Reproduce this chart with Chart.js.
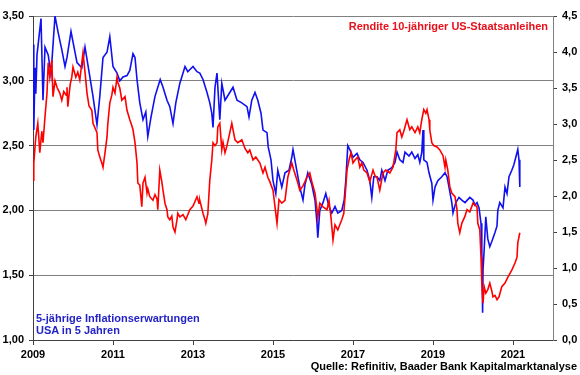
<!DOCTYPE html>
<html>
<head>
<meta charset="utf-8">
<script src="https://cdn.jsdelivr.net/npm/chart.js@4.4.1/dist/chart.umd.min.js"></script>
<style>
  html, body { margin: 0; padding: 0; background: #fff; }
  #wrap { position: relative; width: 580px; height: 375px; overflow: hidden; }
  canvas { position: absolute; left: 0; top: 0; }
  .lbl { position: absolute; font-family: "Liberation Sans", Arial, sans-serif; font-weight: bold; font-size: 11px; line-height: 12px; white-space: nowrap; }
  #redLbl { right: 32px; top: 20px; color: #e8101a; }
  #blueLbl { left: 36px; top: 312px; color: #2323c8; }
  #srcLbl { right: 3px; top: 360px; color: #000; }
</style>
</head>
<body>
<div id="wrap">
  <canvas id="c" width="580" height="375"></canvas>
  <div class="lbl" id="redLbl">Rendite 10-jähriger US-Staatsanleihen</div>
  <div class="lbl" id="blueLbl">5-jährige Inflationserwartungen<br>USA in 5 Jahren</div>
  <div class="lbl" id="srcLbl">Quelle: Refinitiv, Baader Bank Kapitalmarktanalyse</div>
</div>
<script>
// X tick labels (years)
const tickYears = [2009, 2011, 2013, 2015, 2017, 2019, 2021];

// 5-jährige Inflationserwartungen USA in 5 Jahren (left axis, %)
const blueYears = [
 2009.0,2009.02,2009.05,2009.07,2009.1,2009.2,2009.25,2009.3,2009.38,2009.45,2009.55,2009.63,2009.72,2009.8,2009.85,2009.95,
 2010.0,2010.1,2010.22,2010.3,2010.38,2010.5,2010.6,2010.67,2010.75,2010.85,2010.92,
 2011.0,2011.1,2011.17,2011.25,2011.35,2011.42,2011.5,2011.55,2011.6,2011.67,2011.75,2011.82,2011.87,2011.95,
 2012.05,2012.18,2012.25,2012.35,2012.42,2012.5,2012.57,2012.67,2012.72,2012.8,2012.87,
 2013.0,2013.1,2013.17,2013.25,2013.35,2013.42,2013.47,2013.5,2013.55,2013.6,2013.67,2013.72,2013.8,2013.92,
 2014.0,2014.1,2014.22,2014.35,2014.4,2014.47,2014.55,2014.62,2014.7,2014.75,2014.85,2014.88,2014.95,
 2015.0,2015.07,2015.12,2015.22,2015.3,2015.4,2015.47,2015.5,2015.6,2015.67,2015.75,2015.8,2015.87,2015.97,
 2016.05,2016.1,2016.12,2016.17,2016.25,2016.32,2016.4,2016.47,2016.55,2016.62,2016.72,2016.78,2016.82,2016.87,2016.92,
 2017.0,2017.1,2017.17,2017.25,2017.35,2017.42,2017.47,2017.52,2017.6,2017.67,2017.72,2017.8,2017.87,2017.97,
 2018.05,2018.1,2018.17,2018.25,2018.3,2018.4,2018.47,2018.55,2018.62,2018.67,2018.72,2018.75,2018.77,2018.85,2018.9,2018.97,
 2019.0,2019.05,2019.12,2019.22,2019.3,2019.35,2019.4,2019.47,2019.5,2019.57,2019.65,2019.72,2019.8,2019.92,
 2020.0,2020.05,2020.1,2020.15,2020.2,2020.22,2020.24,2020.25,2020.28,2020.32,2020.37,2020.42,2020.47,2020.55,2020.6,2020.62,2020.67,2020.75,2020.8,2020.85,2020.9,2020.97,
 2021.02,2021.07,2021.12,2021.15,2021.17
];
const blueValues = [
 3.28,2.62,3.10,2.90,3.20,3.48,2.85,3.26,3.20,3.05,3.50,3.37,3.24,3.11,3.18,3.38,
 3.30,3.14,3.10,3.26,3.11,2.88,2.66,2.88,3.18,3.22,3.34,
 3.11,3.06,3.00,3.03,3.04,3.08,3.21,3.18,3.01,2.83,2.70,2.76,2.57,2.72,
 2.88,3.01,2.95,2.85,2.80,2.67,2.83,2.98,3.03,3.11,3.07,
 3.11,3.07,3.06,3.01,2.91,2.83,2.75,2.64,2.95,3.06,2.70,2.98,2.85,2.91,
 2.95,2.85,2.83,2.80,2.72,2.85,2.91,2.85,2.75,2.62,2.60,2.49,2.39,
 2.23,2.13,2.31,2.18,2.29,2.31,2.41,2.47,2.30,2.18,2.08,2.20,2.29,2.20,
 2.08,1.90,1.79,2.00,2.06,2.13,2.03,1.98,2.03,1.98,2.00,2.08,2.23,2.50,2.47,
 2.41,2.44,2.39,2.37,2.31,2.23,2.10,2.26,2.26,2.23,2.31,2.23,2.31,2.33,
 2.37,2.45,2.39,2.37,2.45,2.42,2.45,2.40,2.43,2.37,2.45,2.62,2.39,2.37,2.29,2.21,
 2.08,2.18,2.23,2.26,2.29,2.26,2.18,2.06,1.98,2.06,2.10,2.08,2.06,2.10,
 2.08,2.04,2.06,2.02,1.90,1.70,1.21,1.54,1.70,1.95,1.78,1.72,1.76,1.83,1.88,2.00,2.06,2.02,2.18,2.13,2.26,2.31,
 2.35,2.41,2.47,2.39,2.18
];

// Rendite 10-jähriger US-Staatsanleihen (right axis, %)
const redYears = [
 2009.0,2009.02,2009.07,2009.12,2009.17,2009.22,2009.25,2009.3,2009.35,2009.38,2009.42,2009.47,2009.5,2009.55,2009.6,2009.67,2009.72,2009.77,2009.83,2009.85,2009.87,2009.93,2009.97,
 2010.0,2010.07,2010.12,2010.17,2010.25,2010.3,2010.35,2010.4,2010.47,2010.5,2010.6,2010.62,2010.67,2010.72,2010.75,2010.8,2010.85,2010.87,2010.92,2010.97,
 2011.0,2011.05,2011.1,2011.12,2011.17,2011.22,2011.3,2011.35,2011.42,2011.47,2011.5,2011.55,2011.6,2011.62,2011.67,2011.72,2011.75,2011.8,2011.85,2011.87,2011.92,
 2012.0,2012.05,2012.1,2012.12,2012.17,2012.22,2012.25,2012.3,2012.35,2012.37,2012.42,2012.47,2012.5,2012.55,2012.6,2012.62,2012.67,2012.75,2012.82,2012.92,
 2013.0,2013.1,2013.15,2013.17,2013.25,2013.3,2013.32,2013.37,2013.42,2013.47,2013.5,2013.55,2013.6,2013.62,2013.67,2013.72,2013.75,2013.8,2013.85,2013.92,2013.97,
 2014.05,2014.12,2014.22,2014.3,2014.37,2014.42,2014.5,2014.57,2014.67,2014.75,2014.8,2014.87,2014.92,
 2015.0,2015.05,2015.1,2015.15,2015.22,2015.3,2015.37,2015.47,2015.52,2015.6,2015.67,2015.75,2015.85,2015.92,2015.97,
 2016.05,2016.1,2016.12,2016.17,2016.25,2016.35,2016.4,2016.45,2016.5,2016.55,2016.62,2016.67,2016.72,2016.77,2016.82,2016.85,2016.9,2016.95,
 2017.0,2017.05,2017.12,2017.17,2017.22,2017.27,2017.35,2017.42,2017.5,2017.55,2017.6,2017.67,2017.75,2017.82,2017.92,
 2018.0,2018.07,2018.1,2018.17,2018.22,2018.27,2018.35,2018.42,2018.47,2018.55,2018.62,2018.67,2018.72,2018.77,2018.82,2018.85,2018.9,2018.92,2018.97,
 2019.02,2019.1,2019.17,2019.25,2019.3,2019.32,2019.37,2019.42,2019.47,2019.55,2019.6,2019.62,2019.67,2019.72,2019.8,2019.85,2019.92,
 2020.0,2020.1,2020.12,2020.17,2020.2,2020.22,2020.25,2020.28,2020.32,2020.37,2020.42,2020.47,2020.5,2020.55,2020.6,2020.65,2020.72,2020.8,2020.87,2020.97,
 2021.05,2021.1,2021.12,2021.17
];
const redValues = [
 2.22,2.46,2.82,3.01,2.60,2.90,2.74,3.10,3.43,3.85,3.65,3.89,3.38,3.60,3.51,3.43,3.33,3.45,3.40,3.51,3.24,3.55,3.65,
 3.79,3.65,3.72,3.61,3.99,3.72,3.43,3.25,3.19,3.01,2.88,2.64,2.54,2.46,2.40,2.60,2.82,3.00,3.29,3.40,
 3.51,3.43,3.65,3.58,3.50,3.33,3.38,3.19,3.06,2.98,2.92,2.74,2.46,2.18,2.15,1.85,2.18,2.26,2.04,2.10,1.99,
 1.94,2.02,1.96,1.81,2.36,2.20,2.08,1.90,1.81,1.71,1.67,1.72,1.57,1.50,1.67,1.76,1.71,1.74,1.67,1.81,
 1.86,1.99,1.90,1.94,1.76,1.67,1.62,1.75,2.22,2.50,2.74,2.70,2.74,2.96,3.01,2.64,2.75,2.60,2.70,2.88,3.01,
 2.78,2.74,2.78,2.66,2.60,2.64,2.50,2.54,2.46,2.32,2.40,2.26,2.20,
 2.08,1.85,1.62,1.95,1.90,1.94,2.26,2.46,2.36,2.22,2.08,2.14,2.26,2.32,2.20,
 2.04,1.81,1.70,1.90,1.85,1.81,1.94,1.70,1.39,1.60,1.53,1.60,1.67,1.76,2.13,2.36,2.50,2.60,
 2.46,2.50,2.54,2.40,2.46,2.36,2.32,2.20,2.36,2.28,2.26,2.08,2.32,2.36,2.32,
 2.40,2.64,2.88,2.92,2.82,2.90,3.06,2.92,2.96,2.88,2.96,2.88,3.06,3.20,3.15,3.20,3.06,2.92,2.74,
 2.70,2.68,2.64,2.56,2.40,2.50,2.36,2.13,2.04,1.99,1.81,1.62,1.49,1.62,1.72,1.81,1.78,
 1.90,1.85,1.62,1.53,1.15,0.79,0.51,0.74,0.65,0.70,0.79,0.68,0.60,0.62,0.56,0.60,0.74,0.79,0.87,0.97,
 1.07,1.15,1.35,1.49
];

const toPts = (xs, ys) => xs.map((x, i) => ({ x: x, y: ys[i] }));
const FONT = { family: "'Liberation Sans', Arial, sans-serif", size: 11, weight: 'bold' };
const de = (v, d) => Number(v).toFixed(d).replace('.', ',');

new Chart(document.getElementById('c'), {
  type: 'line',
  data: {
    datasets: [
      { label: 'Rendite 10-jähriger US-Staatsanleihen', data: toPts(redYears, redValues), yAxisID: 'yR',
        borderColor: '#ff0000', borderWidth: 1.6, pointRadius: 0, tension: 0, fill: false },
      { label: '5-jährige Inflationserwartungen USA in 5 Jahren', data: toPts(blueYears, blueValues), yAxisID: 'yL',
        borderColor: '#1010f0', borderWidth: 1.6, pointRadius: 0, tension: 0, fill: false }
    ]
  },
  options: {
    responsive: false,
    animation: false,
    events: [],
    layout: { padding: { top: 16, left: 0, right: 0, bottom: 0 } },
    plugins: { legend: { display: false }, tooltip: { enabled: false }, title: { display: false } },
    scales: {
      x: {
        type: 'linear', min: 2009, max: 2022,
        afterBuildTicks: s => { s.ticks = tickYears.map(v => ({ value: v })); },
        afterFit: s => { s.height = 35; },
        ticks: { font: FONT, color: '#000', padding: 3, maxRotation: 0, autoSkip: false, callback: v => String(v) },
        grid: { drawOnChartArea: false, drawTicks: true, tickLength: 5, color: '#404040' },
        border: { display: true, color: '#404040', width: 1 }
      },
      yL: {
        type: 'linear', position: 'left', min: 1, max: 3.5,
        afterFit: s => { s.width = 33; },
        ticks: { stepSize: 0.5, font: FONT, color: '#000', padding: 5, callback: v => de(v, 2) },
        grid: { drawOnChartArea: true, color: '#808080', lineWidth: 1, drawTicks: true, tickLength: 4, tickColor: '#404040' },
        border: { display: true, color: '#404040', width: 1 }
      },
      yR: {
        type: 'linear', position: 'right', min: 0, max: 4.5,
        afterFit: s => { s.width = 27; },
        ticks: { stepSize: 0.5, font: FONT, color: '#000', padding: 5, callback: v => de(v, 1) },
        grid: { drawOnChartArea: false, drawTicks: true, tickLength: 4, color: '#404040' },
        border: { display: true, color: '#808080', width: 1 }
      }
    }
  }
});
</script>
</body>
</html>
